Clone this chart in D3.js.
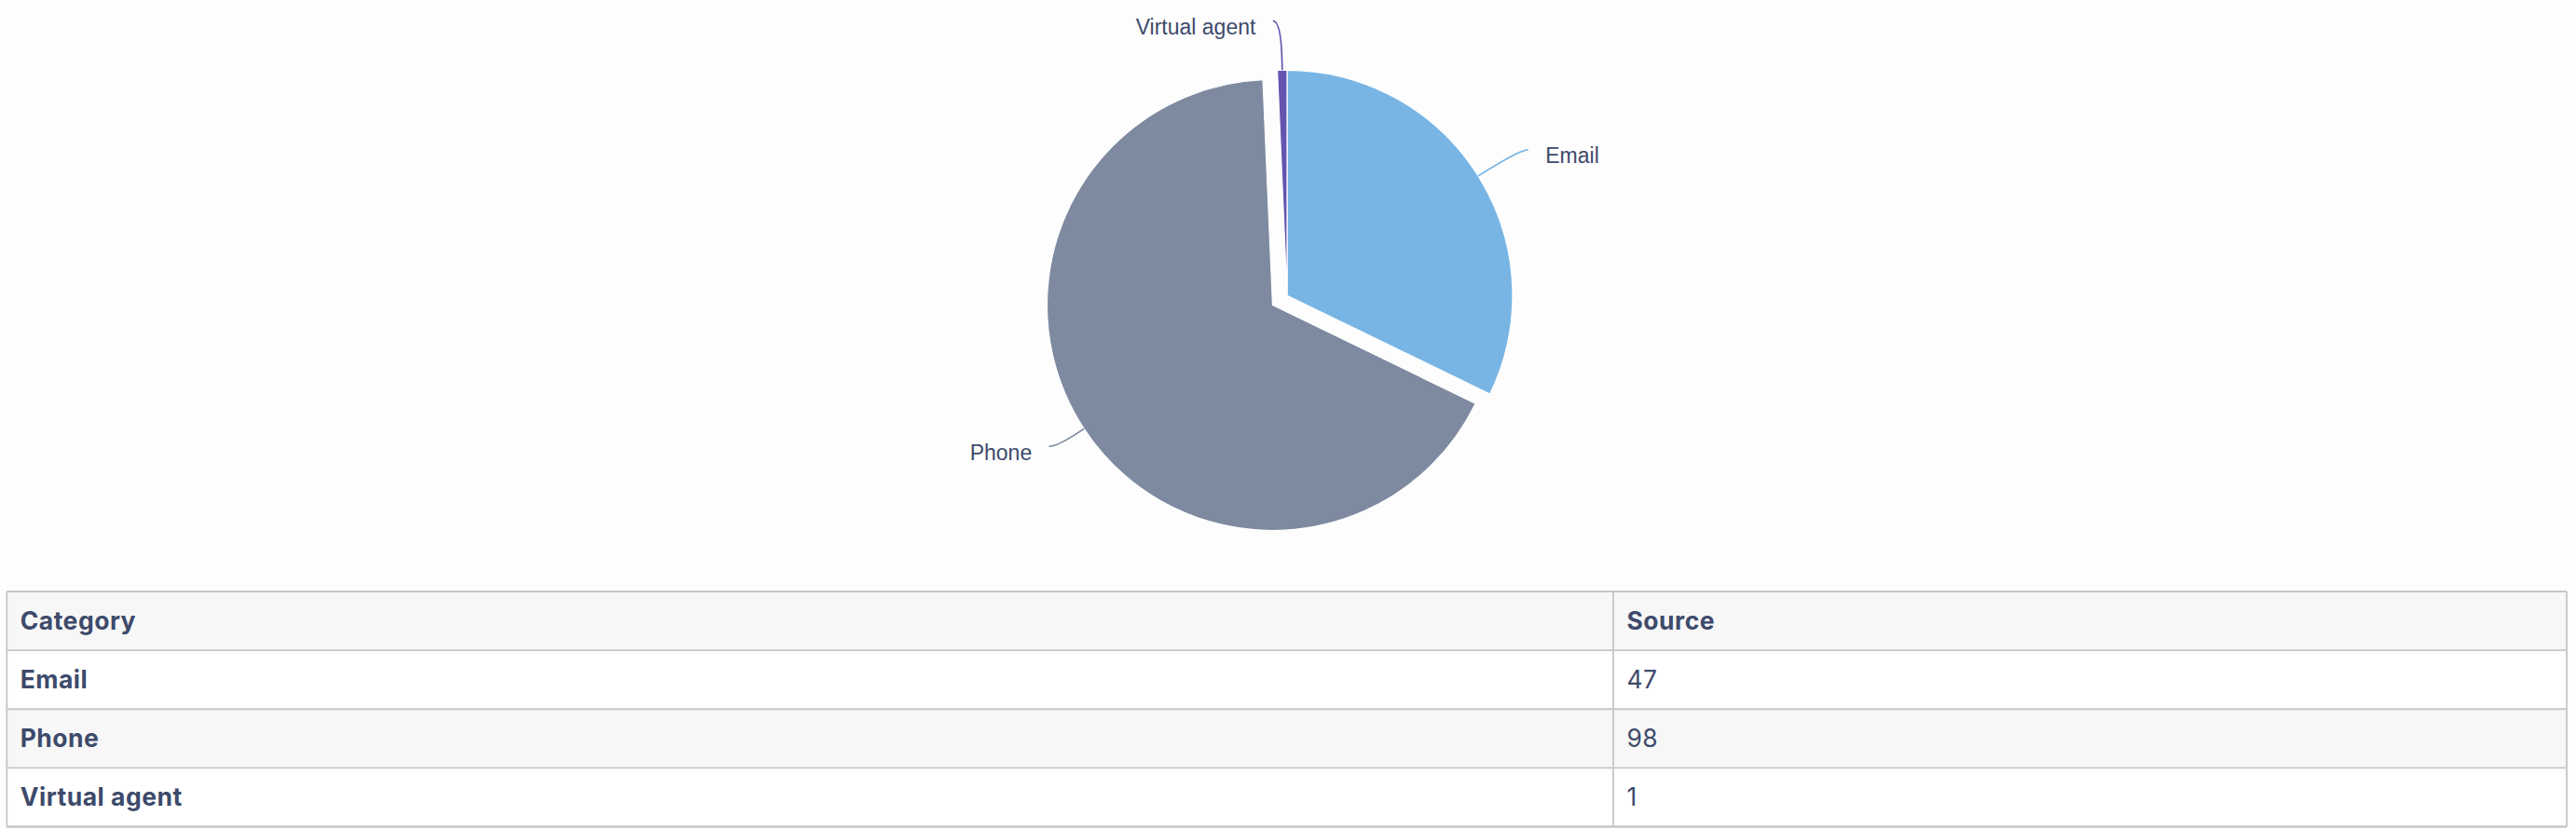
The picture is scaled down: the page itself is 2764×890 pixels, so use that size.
<!DOCTYPE html>
<html>
<head>
<meta charset="utf-8">
<script src="https://cdn.jsdelivr.net/npm/d3@7"></script>
<style>
  html, body { margin: 0; padding: 0; background: #fdfdfd; }
  svg { display: block; }
</style>
</head>
<body>
<svg id="chart" width="2764" height="890"></svg>
<script>
// ---- data ----
const categories = ["Email", "Phone", "Virtual agent"];
const values = [47, 98, 1];
const sliceColors = ["#78b5e4", "#7e8aa0", "#6554af"];
const slicedFlags = [false, true, false];
const tableHeaders = ["Category", "Source"];

// ---- layout ----
const W = 2764, H = 890;
const cx = 1381, cy = 317.3, R = 242;
const slicedOffset = 18.6;
const labelDistance = 52.9;
const connectorOffset = 8.8;
const labelPad = 8.8;
const textColor = "#3d4a6b";

const svg = d3.select("#chart");
svg.append("rect").attr("width", W).attr("height", H).attr("fill", "#fdfdfd");

const data = categories.map((c, i) => ({ cat: c, val: values[i], color: sliceColors[i], sliced: slicedFlags[i] }));
const pie = d3.pie().sort(null).value(d => d.val);
const arcs = pie(data);
const arcGen = d3.arc().innerRadius(0).outerRadius(R);

const g = svg.append("g").attr("transform", `translate(${cx},${cy})`);

arcs.forEach(a => {
  const mid = (a.startAngle + a.endAngle) / 2;
  a.mid = mid;
  const off = a.data.sliced ? slicedOffset : 0;
  a.dx = Math.sin(mid) * off;
  a.dy = -Math.cos(mid) * off;
});

g.selectAll("path.slice").data(arcs).enter().append("path")
  .attr("class", "slice")
  .attr("d", arcGen)
  .attr("transform", d => `translate(${d.dx},${d.dy})`)
  .attr("fill", d => d.data.color)
  .attr("stroke", "#ffffff")
  .attr("stroke-width", 1.2)
  .attr("stroke-linejoin", "round");

// labels + connectors (Highcharts-like placement)
const RD = R + labelDistance;
arcs.forEach(a => {
  const mid = a.mid;
  const sx = Math.sin(mid), sy = -Math.cos(mid);
  const left = sx < 0;
  const ly = sy * RD;
  const ang = Math.asin(Math.max(-1, Math.min(1, ly / RD)));
  const lx = (left ? -1 : 1) * (Math.cos(ang) * RD + labelPad);
  const touch = [a.dx + sx * R, a.dy + sy * R];
  const brk = [a.dx + sx * (R + connectorOffset), a.dy + sy * (R + connectorOffset)];
  const c1 = [lx + (left ? 8.8 : -8.8), ly];
  const c2 = [2 * brk[0] - touch[0], 2 * brk[1] - touch[1]];
  const p = d3.path();
  p.moveTo(lx, ly);
  p.bezierCurveTo(c1[0], c1[1], c2[0], c2[1], brk[0], brk[1]);
  p.lineTo(touch[0], touch[1]);
  g.append("path")
    .attr("d", p.toString())
    .attr("fill", "none")
    .attr("stroke", a.data.color)
    .attr("stroke-width", 1.7);
  g.append("text")
    .attr("x", lx + (left ? -18.5 : 18.5))
    .attr("y", ly + 14.5)
    .attr("text-anchor", left ? "end" : "start")
    .attr("font-family", "'Liberation Sans', Arial, Helvetica, sans-serif")
    .attr("font-size", 23)
    .attr("fill", textColor)
    .text(a.data.cat);
});

// ---- table ----
const tLeft = 7.3, tRight = 2754, tTop = 635, tBottom = 887.5, colDiv = 1731;
const rowsData = [tableHeaders].concat(categories.map((c, i) => [c, String(values[i])]));
const y = d3.scaleBand().domain(d3.range(rowsData.length)).range([tTop, tBottom]).padding(0);
const colX = [tLeft, colDiv, tRight];

const tg = svg.append("g");
tg.selectAll("rect.row").data(rowsData).enter().append("rect")
  .attr("x", tLeft).attr("width", tRight - tLeft)
  .attr("y", (d, i) => y(i)).attr("height", y.bandwidth())
  .attr("fill", (d, i) => i % 2 === 0 ? "#f7f7f7" : "#ffffff");

const borderColor = "#c6c6c6";
d3.range(rowsData.length + 1).forEach(i => {
  const yy = i < rowsData.length ? y(i) : tBottom;
  tg.append("line").attr("x1", tLeft).attr("x2", tRight).attr("y1", yy).attr("y2", yy)
    .attr("stroke", borderColor).attr("stroke-width", i === rowsData.length ? 2.6 : 1.8);
});
colX.forEach(xx => {
  tg.append("line").attr("x1", xx).attr("x2", xx).attr("y1", tTop).attr("y2", tBottom)
    .attr("stroke", borderColor).attr("stroke-width", 1.8);
});

rowsData.forEach((row, i) => {
  row.forEach((cell, j) => {
    const bold = (i === 0) || (j === 0);
    tg.append("text")
      .attr("x", colX[j] + 14.4)
      .attr("y", y(i) + 40.7)
      .attr("font-family", "Inter, 'Noto Sans', sans-serif")
      .attr("font-size", 26.5)
      .attr("letter-spacing", 0.5)
      .attr("font-weight", bold ? 700 : 400)
      .attr("fill", textColor)
      .text(cell);
  });
});
</script>
</body>
</html>
